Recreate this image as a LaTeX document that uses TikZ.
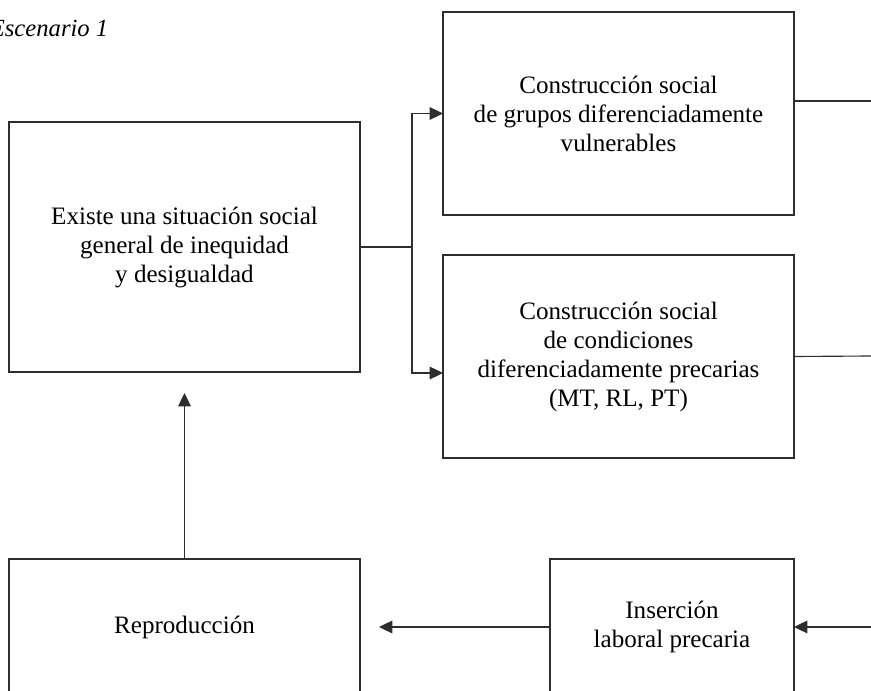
\documentclass[tikz,border=0pt]{standalone}
\usepackage{fontspec}
\setmainfont{Liberation Serif}
\usepackage{tikz}
\usetikzlibrary{arrows.meta,positioning,calc}
\definecolor{trazo}{HTML}{2E2E2E}
\tikzset{
    caja/.style={
        rectangle,
        draw=trazo,
        line width=0.85pt,
        align=center,
        inner sep=0pt,
        outer sep=0pt,
        font=\fontsize{18.8}{21.75}\selectfont
    },
    cajaAncha/.style={caja, minimum width=263.25pt},
    cajaAlta/.style={cajaAncha, minimum height=152.25pt},
    flecha/.style={-{Triangle[length=10pt,width=9.5pt]}, draw=trazo, line width=0.85pt},
    linea/.style={draw=trazo, line width=0.85pt}
}

\begin{document}
\begin{tikzpicture}[x=0.75pt, y=-0.75pt]
    \useasboundingbox (0,0) rectangle (871,691);
    \node[anchor=base east, font=\fontsize{18.5}{22}\selectfont\itshape] (titulo) at (113,37) {Escenario 1};

    \node[cajaAncha, minimum height=187.5pt] (existe) at (184.5,247) {Existe una situación social\\general de inequidad\\y desigualdad};
    \node[cajaAlta] (grupos) at (618.5,113.5) {Construcción social\\de grupos diferenciadamente\\vulnerables};
    \node[cajaAlta] (condiciones) at (618.5,356.5) {Construcción social\\de condiciones\\diferenciadamente precarias\\(MT, RL, PT)};
    \node[cajaAncha, minimum height=102pt] (reproduccion) at (184.5,627) {Reproducción};
    \node[caja, minimum width=183pt, minimum height=102pt] (insercion) at (672,627) {Inserción\\laboral precaria};

    \coordinate (ramo) at (412,247);
    \coordinate (bajo) at (412,373);
    \coordinate (salidaA) at (871,101);
    \coordinate (salidaB) at (871,356);
    \coordinate (entrada) at (871,627);

    \draw[linea] (existe.east) -- (ramo);
    \draw[flecha] (ramo) |- (grupos.west);
    \draw[flecha] (ramo) -- (bajo) -- (bajo -| condiciones.west);
    \draw[linea] (grupos.east |- salidaA) -- (salidaA);
    \draw[linea] (condiciones.east) -- (salidaB);
    \draw[flecha] (entrada) -- (insercion.east);
    \draw[flecha, shorten >=14.25pt] (insercion.west) -- (reproduccion.east);
    \draw[flecha, shorten >=15.75pt] (reproduccion.north) -- (existe.south);
\end{tikzpicture}
\end{document}
